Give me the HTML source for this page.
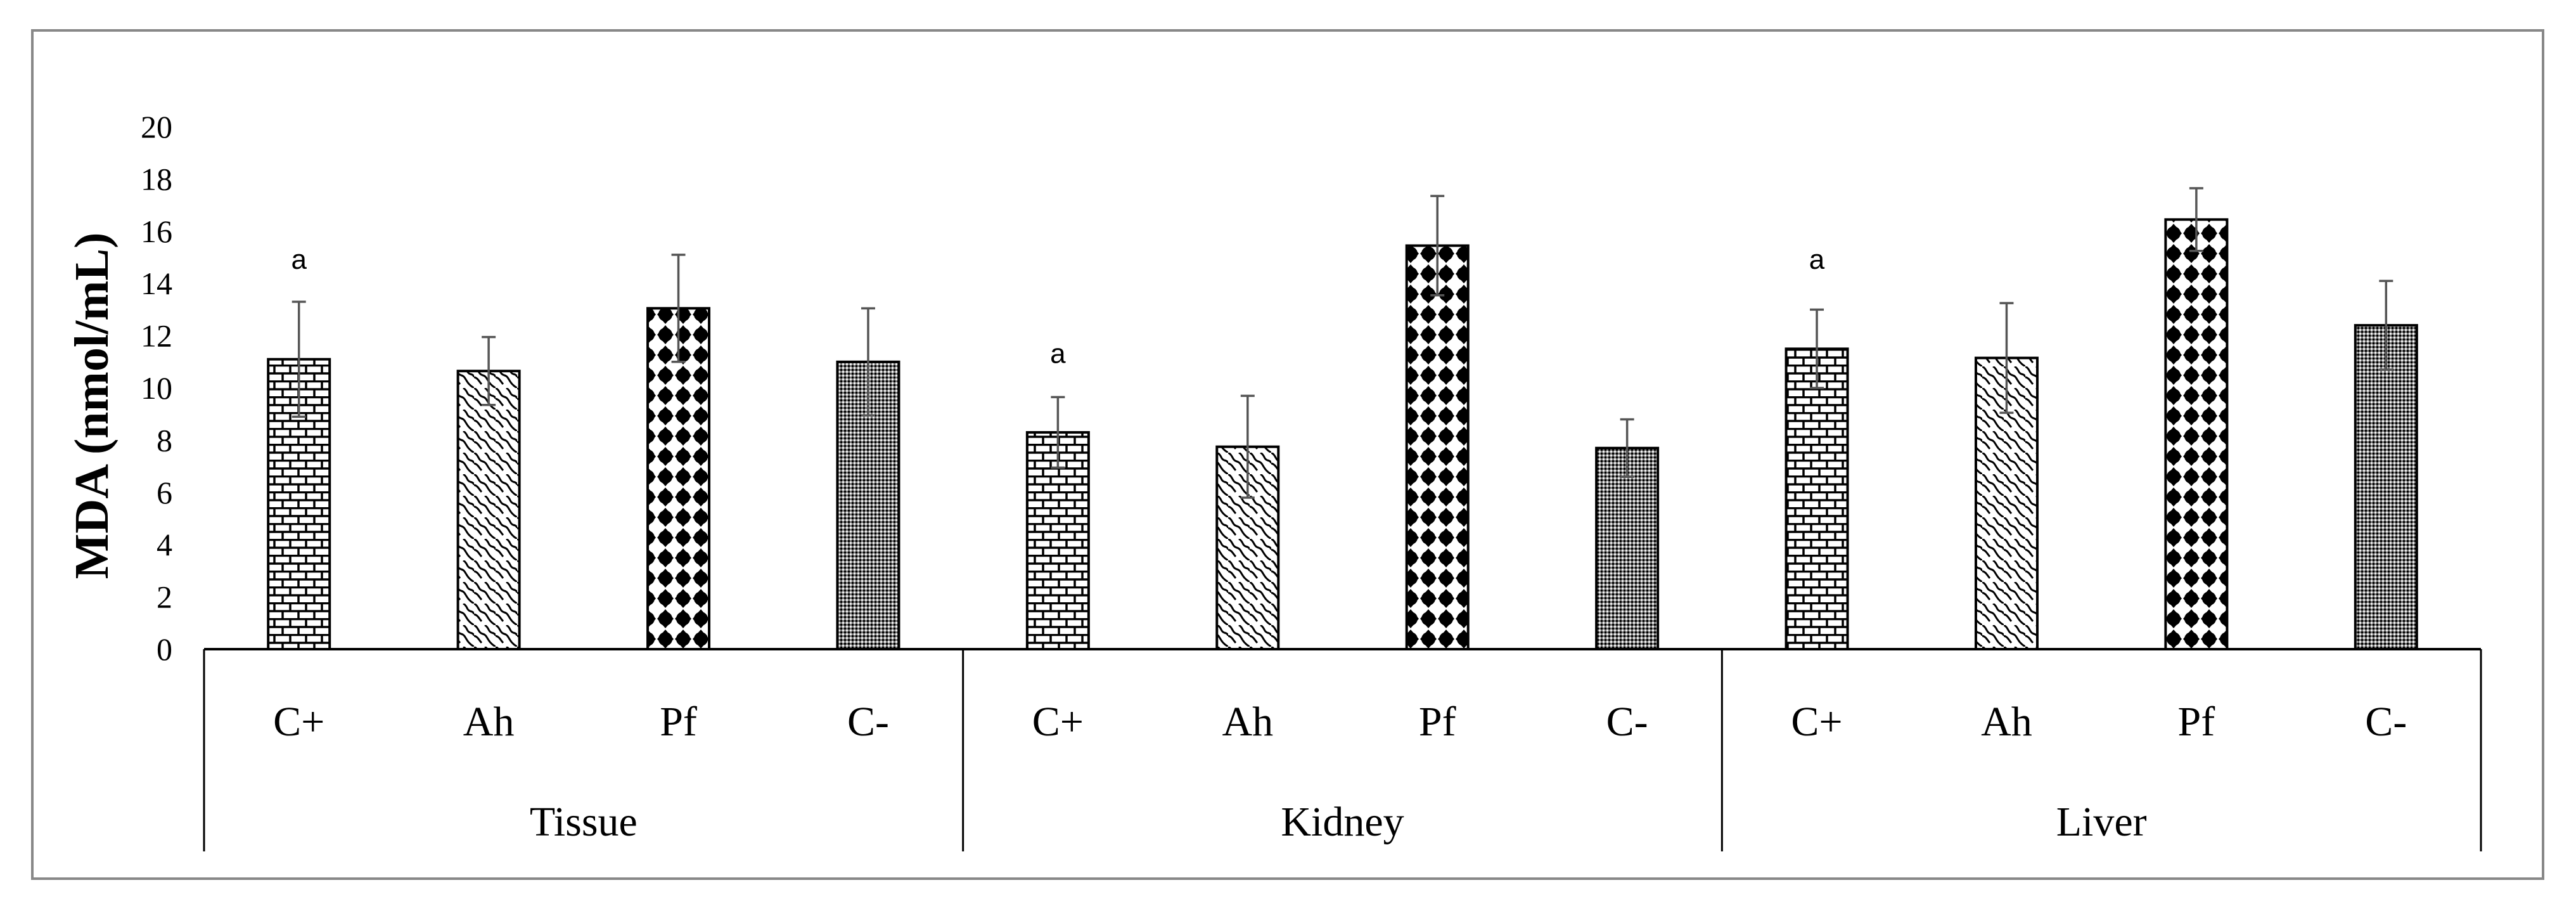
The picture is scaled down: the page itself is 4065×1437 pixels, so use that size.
<!DOCTYPE html>
<html><head><meta charset="utf-8"><style>
html,body{margin:0;padding:0;background:#fff;}
svg{display:block;}
text{font-family:"Liberation Serif",serif;fill:#000;}
</style></head><body>
<svg id="chart" width="4065" height="1437" viewBox="0 0 4065 1437" xmlns="http://www.w3.org/2000/svg">
<defs>
<pattern id="pat-brick" patternUnits="userSpaceOnUse" width="50" height="25" x="425" y="0">
<rect width="50" height="25" fill="#fff"/>
<path d="M0 1.5H50M0 14H50M8 0V13M33 0V13M21 13V25M46 13V25" stroke="#000" stroke-width="3.5" fill="none"/>
</pattern>
<pattern id="pat-wave" patternUnits="userSpaceOnUse" width="34" height="34">
<rect width="34" height="34" fill="#fff"/>
<path d="M0 0 C8 4 6 12 14 14 C22 16 20 26 34 34 M0 17 C6 18 8 24 12 28 M17 0 C24 4 22 10 28 12 C32 13 34 15 34 17" stroke="#000" stroke-width="3" fill="none"/>
</pattern>
<pattern id="pat-dots" patternUnits="userSpaceOnUse" width="28" height="32">
<rect width="28" height="32" fill="#fff"/>
<path d="M14 1 L27 16 L14 31 L1 16 Z" fill="#000"/>
<circle cx="14" cy="16" r="11" fill="#000"/>
</pattern>
<pattern id="pat-fine" patternUnits="userSpaceOnUse" width="6" height="6">
<rect width="6" height="6" fill="#777"/>
<rect x="0" y="0" width="3" height="3" fill="#000"/>
<rect x="3" y="3" width="3" height="3" fill="#eee"/>
</pattern>
</defs>
<rect x="51" y="48" width="3962" height="1338" fill="none" stroke="#888" stroke-width="4"/>
<g id="plot"></g>
</svg>
<script>
const groups = ["Tissue", "Kidney", "Liver"];
const categories = ["C+", "Ah", "Pf", "C-"];
const tissueValues = [11.1, 10.65, 13.05, 11.0];
const kidneyValues = [8.3, 7.75, 15.45, 7.7];
const liverValues = [11.5, 11.15, 16.45, 12.4];
const tissueErrors = [2.2, 1.3, 2.05, 2.05];
const kidneyErrors = [1.35, 1.95, 1.9, 1.1];
const liverErrors = [1.5, 2.1, 1.2, 1.7];
const letterLabels = ["a", "a", "a"];
const letterValues = [14.9, 11.3, 14.9];
const yTicks = [0, 2, 4, 6, 8, 10, 12, 14, 16, 18, 20];

const values = [tissueValues, kidneyValues, liverValues];
const errors = [tissueErrors, kidneyErrors, liverErrors];
const patterns = ["pat-brick", "pat-wave", "pat-dots", "pat-fine"];
const NS = "http://www.w3.org/2000/svg";
const plot = document.getElementById("plot");
const x0 = 322, x1 = 3915, y0 = 1024, yTop = 200, yMax = 20;
const groupW = (x1 - x0) / groups.length;
const slotW = groupW / categories.length;
const barW = 97;
function yScale(v){ return y0 - (v / yMax) * (y0 - yTop); }
function xCenter(g, c){ return x0 + g * groupW + (c + 0.5) * slotW; }
function mk(tag, attrs){ const e = document.createElementNS(NS, tag); for (const k in attrs) e.setAttribute(k, attrs[k]); plot.appendChild(e); return e; }

yTicks.forEach(t => {
  const e = mk("text", {x: 272, y: yScale(t) + 17, "text-anchor": "end", "font-size": 50});
  e.textContent = t;
  
  
});
const yl = mk("text", {x: 0, y: 0, "text-anchor": "middle", "font-size": 76, "font-weight": "bold", transform: "translate(170,640) rotate(-90)"});
yl.textContent = "MDA (nmol/mL)";



groups.forEach((gName, g) => {
  categories.forEach((cName, c) => {
    const v = values[g][c], err = errors[g][c];
    const cx = xCenter(g, c);
    const bar = mk("rect", {x: cx - barW / 2, y: yScale(v), width: barW, height: y0 - yScale(v), fill: "url(#" + patterns[c] + ")", stroke: "#000", "stroke-width": 4});
    
    
    const eb = mk("path", {d: "M" + cx + " " + yScale(v - err) + "V" + yScale(v + err) + "M" + (cx - 11) + " " + yScale(v + err) + "H" + (cx + 11) + "M" + (cx - 11) + " " + yScale(v - err) + "H" + (cx + 11), stroke: "#555", "stroke-width": 3.5, fill: "none"});
    
    
    const cl = mk("text", {x: cx, y: 1160, "text-anchor": "middle", "font-size": 66});
    cl.textContent = cName;
    
    
  });
  const gl = mk("text", {x: x0 + (g + 0.5) * groupW, y: 1318, "text-anchor": "middle", "font-size": 66});
  gl.textContent = gName;
  
  
  const lt = mk("text", {x: xCenter(g, 0), y: yScale(letterValues[g]) + 14, "text-anchor": "middle", "font-size": 44, style: "font-family:'Liberation Sans',sans-serif"});
  lt.textContent = letterLabels[g];
  
  
});
const axis = mk("path", {d: "M" + x0 + " " + y0 + "H" + x1, stroke: "#000", "stroke-width": 4, fill: "none"});


for (let g = 0; g <= groups.length; g++) {
  const gx = x0 + g * groupW;
  const sep = mk("path", {d: "M" + gx + " " + y0 + "V1343", stroke: "#000", "stroke-width": 3, fill: "none"});
  
  
}
</script>
</body></html>
